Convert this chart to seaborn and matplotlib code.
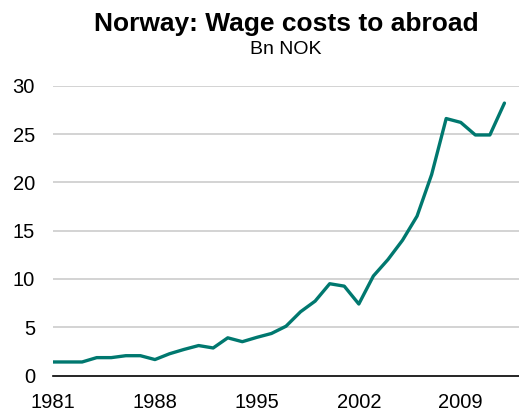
import matplotlib
matplotlib.use("Agg")
import matplotlib.pyplot as plt
import seaborn as sns
import pandas as pd

years = list(range(1981, 2013))
values = [1.4, 1.4, 1.4, 1.85, 1.85, 2.05, 2.05, 1.65, 2.25, 2.7, 3.1, 2.85, 3.9, 3.5,
          3.95, 4.35, 5.1, 6.6, 7.7, 9.5, 9.25, 7.4, 10.3, 12.0, 14.0, 16.5, 20.8,
          26.6, 26.2, 24.9, 24.9, 28.2]
x_ticks = [1981, 1988, 1995, 2002, 2009]
y_ticks = [0, 5, 10, 15, 20, 25, 30]

df = pd.DataFrame({"year": years, "value": values})

sns.set_theme(style="white")
plt.rcParams['font.family'] = ['Liberation Sans', 'DejaVu Sans']

fig = plt.figure(figsize=(5.19, 4.11), dpi=100)
ax = fig.add_axes([53/519, 35.5/411, 1 - 53/519, (375.5-85.7)/411])

for yv in y_ticks[1:]:
    ax.axhline(yv, color="#C8C8C8", lw=1.1, zorder=0)

sns.lineplot(data=df, x="year", y="value", ax=ax, color="#00786F", lw=2.4)

ax.set_xlim(1981, 2013)
ax.set_ylim(0, 30)
ax.set_xticks(x_ticks)
ax.set_xticklabels([str(t) for t in x_ticks])
ax.set_yticks(y_ticks)
ax.set_xlabel("")
ax.set_ylabel("")
for s in ["left", "right", "top"]:
    ax.spines[s].set_visible(False)
ax.spines["bottom"].set_color("black")
ax.spines["bottom"].set_linewidth(1.2)
ax.spines["bottom"].set_zorder(5)
ax.tick_params(axis="x", direction="in", length=5, width=1.2, color="black",
               labelsize=14.5, pad=12.5, labelcolor="black")
ax.tick_params(axis="y", length=0, labelsize=14.5, pad=13, labelcolor="black")
ax.grid(False)

fig.text(286/519, 1 - 24.5/411, "Norway: Wage costs to abroad", ha="center", va="center",
         fontsize=19, fontweight="bold", color="black")
fig.text(286/519, 1 - 50/411, "Bn NOK", ha="center", va="center", fontsize=14, color="black")

fig.savefig("out.png", dpi=100)
